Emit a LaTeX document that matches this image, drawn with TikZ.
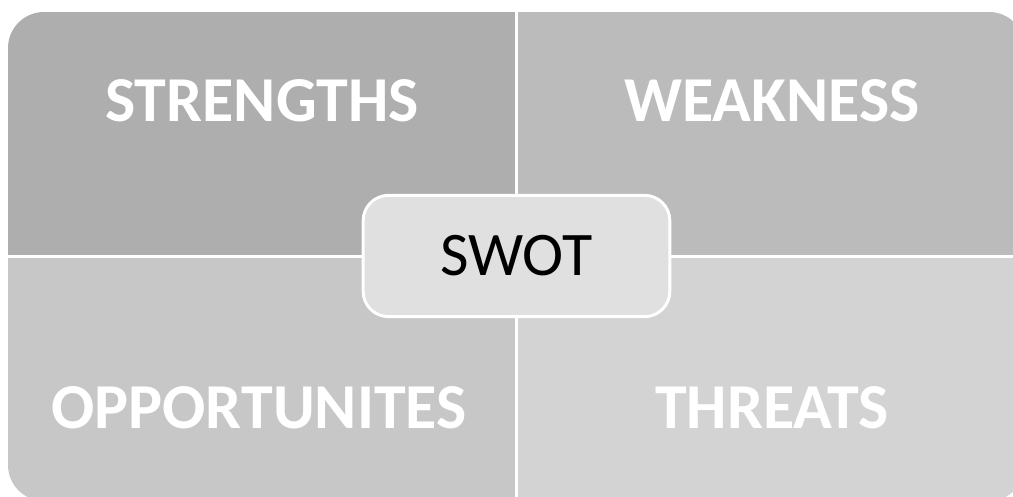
\documentclass[tikz,border=0pt]{standalone}
\usepackage{fontspec}
\setmainfont{Carlito}
\usepackage{xcolor}
\definecolor{quadS}{RGB}{174,174,174}
\definecolor{quadW}{RGB}{187,187,187}
\definecolor{quadO}{RGB}{199,199,199}
\definecolor{quadT}{RGB}{211,211,211}
\definecolor{swotgray}{RGB}{224,224,224}
\usetikzlibrary{positioning}
\tikzstyle{quadtext} = [
    text=white, inner sep=0pt,
    font=\fontsize{48}{56}\selectfont\bfseries,
]
\tikzstyle{swotbox} = [
    fill=swotgray, draw=white, line width=2.2pt,
    rounded corners=19pt,
    minimum width=230pt, minimum height=91pt,
    font=\fontsize{46.5}{54}\selectfont,
]
\tikzstyle{divider} = [white, line width=2.8pt]

\begin{document}
\begin{tikzpicture}[x=0.75pt,y=-0.75pt]
    \useasboundingbox (0,0) rectangle (1013,496);
    % four quadrants, outer corners rounded
    \begin{scope}
        \clip[rounded corners=27pt] (8,12) rectangle (1025,501);
        \fill[quadS] (8,12) rectangle (516.5,256.5);
        \fill[quadW] (516.5,12) rectangle (1025,256.5);
        \fill[quadO] (8,256.5) rectangle (516.5,501);
        \fill[quadT] (516.5,256.5) rectangle (1025,501);
    \end{scope}
    \coordinate (top) at (516.5,12);
    \coordinate (bottom) at (516.5,501);
    \coordinate (left) at (8,256.5);
    \coordinate (right) at (1025,256.5);
    \draw[divider] (top) -- (bottom);
    \draw[divider] (left) -- (right);

    \node (s) at (262, 101) [quadtext] {STRENGTHS};
    \node (w) at (772, 101) [quadtext] {WEAKNESS};
    \node (o) at (259, 408) [quadtext] {OPPORTUNITES};
    \node (t) at (772, 408) [quadtext] {THREATS};

    \node (swot) at (516.5, 256) [swotbox] {SWOT};
\end{tikzpicture}
\end{document}
